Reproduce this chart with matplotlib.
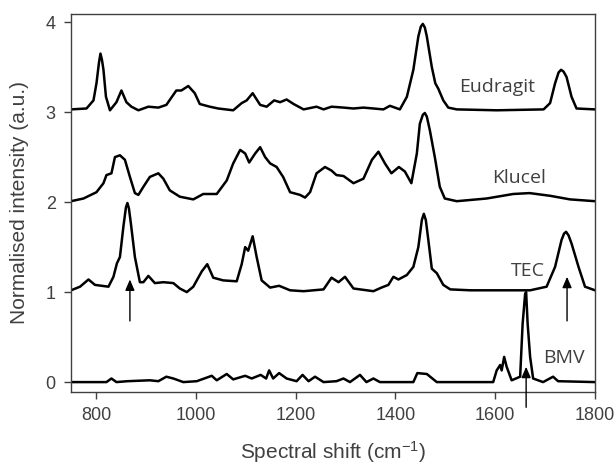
import matplotlib
matplotlib.use("Agg")
import matplotlib.pyplot as plt

# ---- data (wavenumber cm-1, normalised intensity incl. offset)
eud_x = [750, 781, 795, 801, 806, 809, 812, 815, 820, 828, 841, 851, 861, 871, 885, 905, 925, 941, 961, 971,
         985, 998, 1008, 1028, 1045, 1075, 1092, 1102, 1114, 1129, 1142, 1157, 1169, 1182, 1196,
         1216, 1242, 1256, 1272, 1296, 1316, 1336, 1356, 1376, 1389, 1409, 1423, 1436, 1446, 1451, 1455,
         1459, 1463, 1473, 1480, 1486, 1496, 1506, 1523, 1603, 1697, 1710, 1720, 1727, 1732, 1737, 1743, 1753, 1763, 1800]
eud_y = [3.03, 3.04, 3.13, 3.32, 3.55, 3.65, 3.58, 3.47, 3.17, 3.02, 3.11, 3.24, 3.11, 3.06, 3.02, 3.06, 3.05,
         3.08, 3.24, 3.24, 3.29, 3.21, 3.09, 3.06, 3.04, 3.02, 3.10, 3.13, 3.21, 3.08, 3.06, 3.13,
         3.11, 3.14, 3.09, 3.03, 3.06, 3.03, 3.06, 3.05, 3.04, 3.05, 3.04, 3.03, 3.07, 3.03, 3.17,
         3.47, 3.84, 3.95, 3.98, 3.94, 3.84, 3.50, 3.32, 3.26, 3.13, 3.05, 3.03, 3.02, 3.03, 3.10, 3.32, 3.44, 3.47,
         3.45, 3.39, 3.17, 3.04, 3.03]

klu_x = [750, 775, 801, 815, 821, 831, 838, 848, 858, 868, 878, 885, 895, 908, 925, 935, 948, 968,
         995, 1015, 1042, 1062, 1075, 1089, 1099, 1107, 1119, 1129, 1139, 1149, 1162, 1175, 1189,
         1209, 1219, 1229, 1242, 1259, 1272, 1282, 1296, 1316, 1336, 1353, 1366, 1379, 1392, 1407,
         1419, 1432, 1443, 1449, 1455, 1459, 1463, 1469, 1479, 1489, 1499, 1523, 1583, 1636, 1669, 1710, 1750, 1800]
klu_y = [2.01, 2.04, 2.11, 2.21, 2.30, 2.32, 2.50, 2.52, 2.47, 2.28, 2.10, 2.08, 2.17, 2.28, 2.32,
         2.26, 2.13, 2.06, 2.03, 2.09, 2.09, 2.24, 2.43, 2.58, 2.54, 2.44, 2.54, 2.61, 2.50, 2.43,
         2.39, 2.28, 2.11, 2.08, 2.05, 2.11, 2.32, 2.39, 2.35, 2.30, 2.29, 2.21, 2.26, 2.47, 2.56,
         2.43, 2.32, 2.39, 2.34, 2.21, 2.54, 2.87, 2.97, 2.99, 2.95, 2.80, 2.50, 2.17, 2.04, 2.01, 2.04, 2.09,
         2.10, 2.07, 2.03, 2.01]

tec_x = [750, 768, 785, 798, 825, 835, 842, 848, 855, 860, 863, 866, 870, 878, 888, 895, 905, 918, 935, 955,
         968, 982, 995, 1012, 1023, 1035, 1055, 1082, 1092, 1099, 1105, 1114, 1122, 1132, 1149,
         1167, 1189, 1216, 1256, 1272, 1286, 1299, 1316, 1356, 1372, 1386, 1396, 1406, 1423, 1436,
         1446, 1453, 1457, 1461, 1466, 1473, 1483, 1496, 1510, 1550, 1670, 1703, 1720, 1733, 1738, 1742, 1747, 1753, 1767,
         1780, 1800]
tec_y = [1.02, 1.06, 1.14, 1.08, 1.06, 1.17, 1.32, 1.39, 1.73, 1.94, 1.99, 1.93, 1.76, 1.39, 1.11, 1.11, 1.18,
         1.10, 1.11, 1.10, 1.04, 1.00, 1.06, 1.23, 1.31, 1.16, 1.13, 1.12, 1.31, 1.50, 1.46, 1.62,
         1.39, 1.13, 1.05, 1.07, 1.02, 1.01, 1.03, 1.16, 1.11, 1.17, 1.04, 1.01, 1.05, 1.08, 1.17,
         1.14, 1.19, 1.28, 1.50, 1.80, 1.87, 1.80, 1.58, 1.26, 1.21, 1.08, 1.03, 1.02, 1.02, 1.06, 1.28, 1.58,
         1.65, 1.67, 1.63, 1.54, 1.28, 1.06, 1.02]

bmv_x = [750, 821, 831, 841, 863, 908, 925, 941, 955, 975, 1002, 1032, 1042, 1062, 1075, 1099, 1112,
         1130, 1141, 1147, 1155, 1167, 1182, 1202, 1214, 1226, 1239, 1256, 1282, 1296, 1309, 1329,
         1342, 1356, 1369, 1436, 1444, 1463, 1483, 1596, 1603, 1610, 1613, 1618, 1623, 1633, 1650,
         1655, 1660, 1662, 1665, 1670, 1676, 1696, 1716, 1726, 1800]
bmv_y = [0.00, 0.00, 0.04, 0.00, 0.01, 0.02, 0.01, 0.06, 0.04, 0.00, 0.01, 0.07, 0.02, 0.09, 0.03,
         0.07, 0.04, 0.08, 0.04, 0.13, 0.04, 0.10, 0.04, 0.01, 0.08, 0.01, 0.06, 0.00, 0.01, 0.04,
         0.00, 0.08, 0.00, 0.04, 0.00, 0.00, 0.10, 0.09, 0.00, 0.00, 0.13, 0.19, 0.13, 0.28, 0.17,
         0.02, 0.06, 0.65, 0.98, 1.00, 0.65, 0.28, 0.04, 0.00, 0.06, 0.01, 0.00]

series_names = ["Eudragit", "Klucel", "TEC", "BMV"]
label_pos = [(1604, 3.28), (1648, 2.27), (1665, 1.23), (1738, 0.27)]
arrow_x = [868, 1744, 1662]
arrow_head = [1.14, 1.17, 0.17]
arrow_tail = [0.68, 0.68, -0.28]

x_ticks = [800, 1000, 1200, 1400, 1600, 1800]
y_ticks = [0, 1, 2, 3, 4]

plt.rcParams["mathtext.fontset"] = "custom"
plt.rcParams["mathtext.rm"] = "Liberation Sans"
plt.rcParams["mathtext.it"] = "Liberation Sans"

# ---- figure
fig = plt.figure(figsize=(6.16, 4.65), dpi=100)
ax = fig.add_axes([0.1153, 0.157, 0.8506, 0.8129])

grey = "#404040"
for xs, ys in [(eud_x, eud_y), (klu_x, klu_y), (tec_x, tec_y), (bmv_x, bmv_y)]:
    ax.plot(xs, ys, color="black", lw=1.8, solid_joinstyle="round")

for name, (lx, ly) in zip(series_names, label_pos):
    ax.text(lx, ly, name, ha="center", va="center", fontsize=14,
            family="Open Sans", color=grey)

for ax_x, yh, yt in zip(arrow_x, arrow_head, arrow_tail):
    ax.annotate("", xy=(ax_x, yh), xytext=(ax_x, yt),
                arrowprops=dict(arrowstyle="-|>,head_width=0.28,head_length=0.65",
                                lw=1.0, color="black", shrinkA=0, shrinkB=0),
                annotation_clip=False)

ax.set_xlim(750, 1800)
ax.set_ylim(-0.11, 4.09)
ax.set_xticks(x_ticks)
ax.set_yticks(y_ticks)
ax.tick_params(direction="out", length=5, width=1, color=grey, labelcolor=grey,
               labelsize=13, pad=6)
for lab in ax.get_xticklabels() + ax.get_yticklabels():
    lab.set_family("Liberation Sans")
for s in ax.spines.values():
    s.set_color(grey)
    s.set_linewidth(1.0)

ax.set_xlabel("Spectral shift (cm$^{-1}$)", fontsize=15, color=grey,
              family="Liberation Sans", labelpad=11)
ax.set_ylabel("Normalised intensity (a.u.)", fontsize=15, color=grey,
              family="Liberation Sans", labelpad=12)

fig.savefig("out.png", dpi=100)
